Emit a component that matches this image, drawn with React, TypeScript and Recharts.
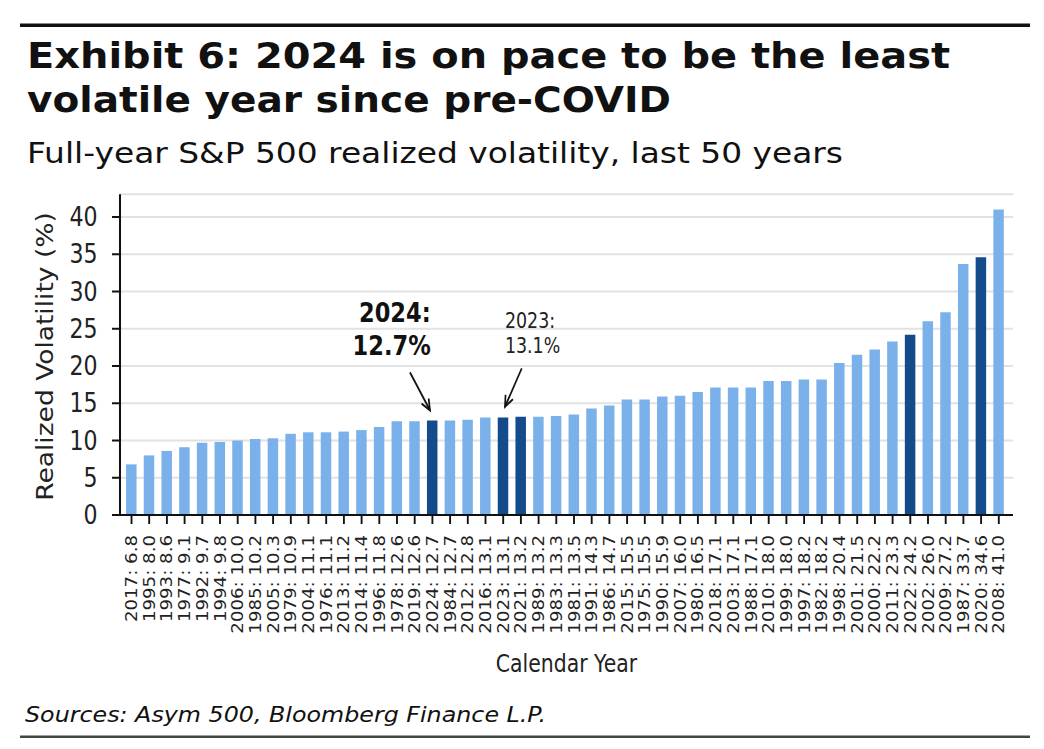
import React from "react";
import { BarChart, Bar, XAxis, YAxis, CartesianGrid, Cell, ReferenceDot } from "recharts";

const years = [
  2017, 1995, 1993, 1977, 1992, 1994, 2006, 1985, 2005, 1979,
  2004, 1976, 2013, 2014, 1996, 1978, 2019, 2024, 1984, 2012,
  2016, 2023, 2021, 1989, 1983, 1981, 1991, 1986, 2015, 1975,
  1990, 2007, 1980, 2018, 2003, 1988, 2010, 1999, 1997, 1982,
  1998, 2001, 2000, 2011, 2022, 2002, 2009, 1987, 2020, 2008,
];
const vols = [
  6.8, 8.0, 8.6, 9.1, 9.7, 9.8, 10.0, 10.2, 10.3, 10.9,
  11.1, 11.1, 11.2, 11.4, 11.8, 12.6, 12.6, 12.7, 12.7, 12.8,
  13.1, 13.1, 13.2, 13.2, 13.3, 13.5, 14.3, 14.7, 15.5, 15.5,
  15.9, 16.0, 16.5, 17.1, 17.1, 17.1, 18.0, 18.0, 18.2, 18.2,
  20.4, 21.5, 22.2, 23.3, 24.2, 26.0, 27.2, 33.7, 34.6, 41.0,
];
const yTicks = [0, 5, 10, 15, 20, 25, 30, 35, 40];
const highlightFrom = 2020;
const LIGHT = "#7BB1EB";
const DARK = "#134B8B";

const data = years.map((y, i) => ({
  label: `${y}: ${vols[i].toFixed(1)}`,
  year: y,
  vol: vols[i],
}));

const S = 0.85; // horizontal squish of the reference
const W = 1044 / S;
const H = 749;

const XTick = (props: any) => {
  const { x, y, payload } = props;
  return (
    <text
      transform={`translate(${x},${y}) rotate(-90)`}
      textAnchor="end"
      dy="0.36em"
      fontSize={18.2}
      fontFamily="DejaVu Sans"
      fill="#222"
    >
      {payload.value}
    </text>
  );
};

const Arrow = ({ x1, y1, x2, y2 }: { x1: number; y1: number; x2: number; y2: number }) => {
  const ang = Math.atan2(y2 - y1, x2 - x1);
  const L = 12;
  const a = 0.42;
  const p1 = [x2 - L * Math.cos(ang - a), y2 - L * Math.sin(ang - a)];
  const p2 = [x2 - L * Math.cos(ang + a), y2 - L * Math.sin(ang + a)];
  return (
    <g stroke="#111" strokeWidth={2} fill="none">
      <line x1={x1} y1={y1} x2={x2} y2={y2} />
      <polyline points={`${p1[0]},${p1[1]} ${x2},${y2} ${p2[0]},${p2[1]}`} />
    </g>
  );
};

const Anno2024 = (props: any) => {
  const { cx, cy } = props;
  if (cx == null || cy == null) return <g />;
  return (
    <g>
      <text x={cx - 2} y={cy - 98} textAnchor="end" fontSize={26.5} fontWeight="bold" fontFamily="DejaVu Sans" fill="#111">
        2024:
      </text>
      <text x={cx - 2} y={cy - 65} textAnchor="end" fontSize={26.5} fontWeight="bold" fontFamily="DejaVu Sans" fill="#111">
        12.7%
      </text>
      <Arrow x1={cx - 26.4} y1={cy - 48} x2={cx - 2.8} y2={cy - 10} />
    </g>
  );
};

const Anno2023 = (props: any) => {
  const { cx, cy } = props;
  if (cx == null || cy == null) return <g />;
  return (
    <g>
      <text x={cx + 2} y={cy - 89.4} textAnchor="start" fontSize={20.5} fontFamily="DejaVu Sans" fill="#222">
        2023:
      </text>
      <text x={cx + 2} y={cy - 64} textAnchor="start" fontSize={20.5} fontFamily="DejaVu Sans" fill="#222">
        13.1%
      </text>
      <Arrow x1={cx + 21.8} y1={cy - 49} x2={cx + 2.1} y2={cy - 10.7} />
    </g>
  );
};

export default function App() {
  return (
    <div style={{ position: "absolute", left: 0, top: 0, width: 1044, height: H, background: "#fff", overflow: "hidden" }}>
      <div
        style={{
          position: "absolute",
          left: 0,
          top: 0,
          width: W,
          height: H,
          transform: `scaleX(${S})`,
          transformOrigin: "0 0",
        }}
      >
        <BarChart
          width={W}
          height={H}
          data={data}
          margin={{ top: 194.3, right: W - 1013 / S, bottom: 0, left: 0 }}
          barCategoryGap={0}
        >
          <CartesianGrid vertical={false} stroke="#e2e2e2" strokeWidth={2} />
          <XAxis
            dataKey="label"
            interval={0}
            tick={<XTick />}
            tickSize={9}
            tickMargin={11}
            height={H - 515 - 0}
            padding={{ left: 2.65 / S, right: 5.35 / S }}
            axisLine={{ stroke: "#111", strokeWidth: 2 }}
            tickLine={{ stroke: "#111", strokeWidth: 2.2 }}
          />
          <YAxis
            width={120 / S}
            domain={[0, 43.05]}
            ticks={yTicks}
            interval={0}
            tickSize={9.4}
            tickMargin={17}
            tick={{ fontSize: 26, fill: "#222", fontFamily: "DejaVu Sans" }}
            axisLine={{ stroke: "#111", strokeWidth: 2.4 }}
            tickLine={{ stroke: "#111", strokeWidth: 2 }}
          />
          <Bar dataKey="vol" barSize={10.5 / S} isAnimationActive={false}>
            {data.map((d) => (
              <Cell key={d.label} fill={d.year >= highlightFrom ? DARK : LIGHT} />
            ))}
          </Bar>
          <ReferenceDot x="2024: 12.7" y={12.7} r={0} shape={Anno2024} isFront />
          <ReferenceDot x="2023: 13.1" y={13.1} r={0} shape={Anno2023} isFront />
        </BarChart>
        <svg
          width={W}
          height={H}
          style={{ position: "absolute", left: 0, top: 0, pointerEvents: "none" }}
        >
          <text
            transform={`translate(${45 / S},356.5) rotate(-90)`}
            textAnchor="middle"
            dy="0.36em"
            fontSize={26.5}
            fontFamily="DejaVu Sans"
            fill="#222"
          >
            Realized Volatility (%)
          </text>
          <text x={566.5 / S} y={671.7} textAnchor="middle" fontSize={24} fontFamily="DejaVu Sans" fill="#222">
            Calendar Year
          </text>
        </svg>
      </div>
      <svg width={1044} height={H} style={{ position: "absolute", left: 0, top: 0, pointerEvents: "none" }}>
        <rect x={20} y={23.5} width={1010} height={3.5} fill="#111" />
        <text x={27} y={68} fontSize={36} fontWeight="bold" fontFamily="DejaVu Sans" fill="#111" textLength={923} lengthAdjust="spacingAndGlyphs">
          Exhibit 6: 2024 is on pace to be the least
        </text>
        <text x={27} y={112} fontSize={36} fontWeight="bold" fontFamily="DejaVu Sans" fill="#111" textLength={644} lengthAdjust="spacingAndGlyphs">
          volatile year since pre-COVID
        </text>
        <text x={27} y={163} fontSize={29} fontFamily="DejaVu Sans" fill="#111" textLength={816} lengthAdjust="spacingAndGlyphs">
          Full-year S&amp;P 500 realized volatility, last 50 years
        </text>
        <text x={25} y={722} fontSize={21} fontStyle="italic" fontFamily="DejaVu Sans" fill="#111" textLength={521} lengthAdjust="spacingAndGlyphs">
          Sources: Asym 500, Bloomberg Finance L.P.
        </text>
        <rect x={20} y={735.5} width={1010} height={2.5} fill="#444" />
      </svg>
    </div>
  );
}
